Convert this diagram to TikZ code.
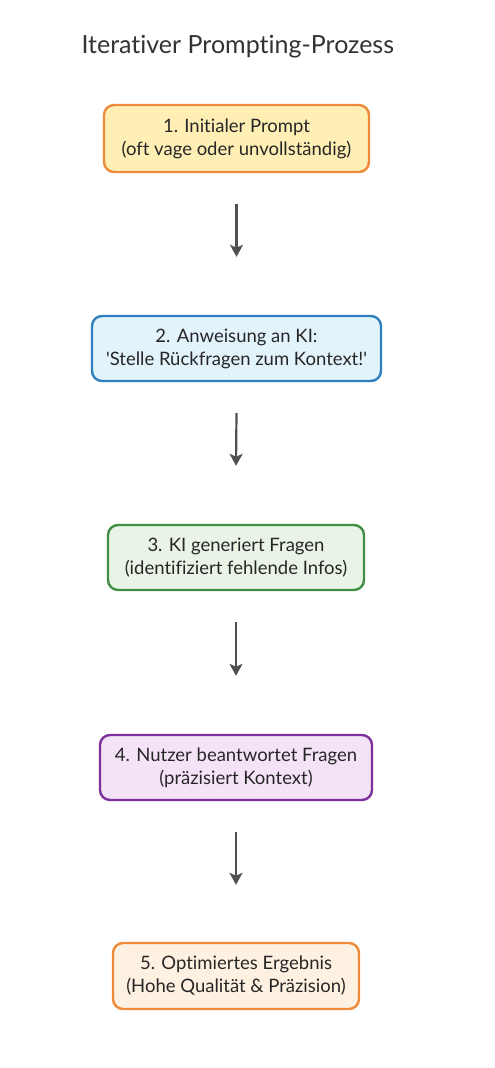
\documentclass[tikz,border=0pt]{standalone}
\usepackage{fontspec}
\setmainfont{Lato}[Ligatures={TeXOff,NoCommon}]
\usepackage{xcolor}
\usetikzlibrary{arrows.meta}
\definecolor{orangeline}{HTML}{EE8A3C}
\definecolor{yellowfill}{HTML}{FFEFB5}
\definecolor{blueline}{HTML}{2F80C0}
\definecolor{bluefill}{HTML}{E3F3FC}
\definecolor{greenline}{HTML}{3F8F44}
\definecolor{greenfill}{HTML}{E9F4E7}
\definecolor{purpleline}{HTML}{7D2F9B}
\definecolor{purplefill}{HTML}{F4E3F6}
\definecolor{peachfill}{HTML}{FFF1E1}
\definecolor{arrowgray}{HTML}{505050}
\tikzset{
  stepbox/.style={draw, line width=2.4pt, rounded corners=10pt, align=center, inner sep=0pt, font=\fontsize{18.5}{23}\selectfont, text=black!85},
  flow/.style={-{Stealth[length=12pt,width=13pt,inset=3pt]}, line width=2.2pt, draw=arrowgray}
}

\begin{document}
\begin{tikzpicture}[x=1pt,y=-1pt]
\useasboundingbox (0,0) rectangle (495,1068);
\node[anchor=west, font=\fontsize{25}{30}\selectfont, text=black!80] (title) at (78,47) {Iterativer Prompting-Prozess};
\node[stepbox, draw=orangeline, fill=yellowfill, minimum width=265pt, minimum height=67pt] (A) at (236.5,138.5) {1. Initialer Prompt\\(oft vage oder unvollständig)};
\node[stepbox, draw=blueline, fill=bluefill, minimum width=289pt, minimum height=65pt] (B) at (236.5,348.5) {2. Anweisung an KI:\\'Stelle Rückfragen zum Kontext!'};
\node[stepbox, draw=greenline, fill=greenfill, minimum width=256pt, minimum height=65pt] (C) at (236,557.5) {3. KI generiert Fragen\\(identifiziert fehlende Infos)};
\node[stepbox, draw=purpleline, fill=purplefill, minimum width=272pt, minimum height=65pt] (D) at (236,767.5) {4. Nutzer beantwortet Fragen\\(präzisiert Kontext)};
\node[stepbox, draw=orangeline, fill=peachfill, minimum width=246pt, minimum height=66pt] (E) at (236,976) {5. Optimiertes Ergebnis\\(Hohe Qualität \& Präzision)};
\draw [flow] ([yshift=-31pt]A.south) -- ([yshift=58pt]B.north);
\draw [flow] ([yshift=-31pt]B.south) -- ([yshift=58pt]C.north);
\draw [flow] ([yshift=-31pt]C.south) -- ([yshift=58pt]D.north);
\draw [flow] ([yshift=-31pt]D.south) -- ([yshift=57pt]E.north);
\end{tikzpicture}
\end{document}
